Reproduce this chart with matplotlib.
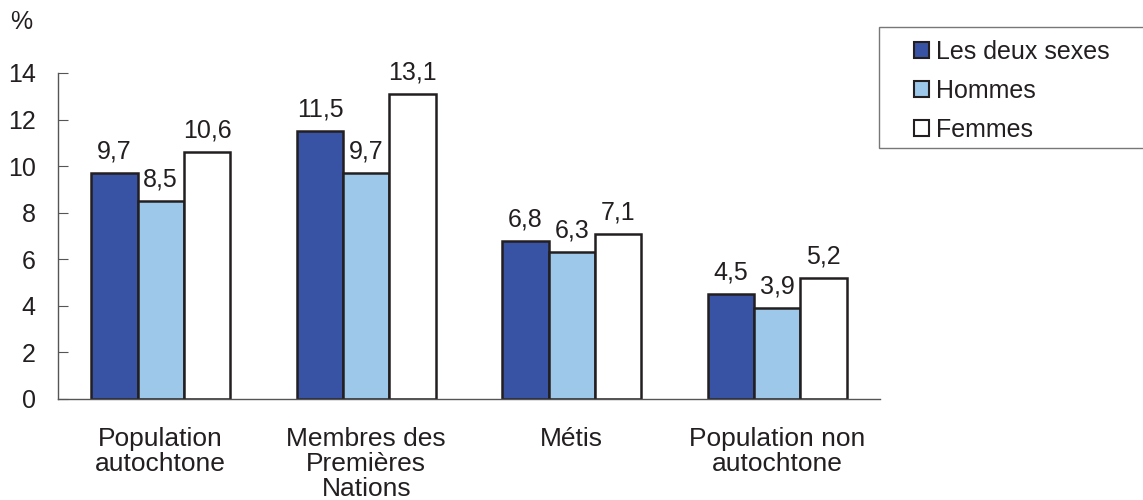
import numpy as np
import matplotlib.pyplot as plt
from matplotlib.patches import Patch, Rectangle

plt.rcParams['font.family'] = ['Liberation Sans', 'DejaVu Sans']

categories = ["Population\nautochtone", "Membres des\nPremières\nNations", "Métis",
              "Population non\nautochtone"]
series_names = ["Les deux sexes", "Hommes", "Femmes"]
les_deux_sexes = [9.7, 11.5, 6.8, 4.5]
hommes = [8.5, 9.7, 6.3, 3.9]
femmes = [10.6, 13.1, 7.1, 5.2]

colors = ["#3953a4", "#9dc8ea", "#ffffff"]
edge = "#231f20"
fs = 18

fig = plt.figure(figsize=(11.43, 5.0), dpi=100)
ax = fig.add_axes([58 / 1143, 1 - 399 / 500, (880 - 58) / 1143, (399 - 73) / 500])

x = np.arange(len(categories))
width = 0.225
for i, (vals, col) in enumerate(zip([les_deux_sexes, hommes, femmes], colors)):
    pos = x + (i - 1) * width
    ax.bar(pos, vals, width, color=col, edgecolor=edge, linewidth=1.8)
    for p, v in zip(pos, vals):
        ax.text(p, v + 0.4, f"{v:.1f}".replace(".", ","), ha="center", va="bottom",
                fontsize=fs, color="#231f20")

ax.set_xlim(-0.5, 3.5)
ax.set_ylim(0, 14)
ax.set_yticks(range(0, 15, 2))
ax.set_xticks(x)
ax.set_xticklabels(categories, fontsize=19, color="#231f20", linespacing=1.05)
ax.tick_params(axis="x", length=0, pad=20)
ax.tick_params(axis="y", labelsize=fs, labelcolor="#231f20", direction="in", length=7,
               color="#555555", pad=16)
for s in ["top", "right"]:
    ax.spines[s].set_visible(False)
for s in ["left", "bottom"]:
    ax.spines[s].set_color("#555555")
    ax.spines[s].set_linewidth(1.0)

fig.text(10 / 1143, 1 - 22 / 500, "%", fontsize=fs, color="#231f20", va="center")

# legend frame runs off the right edge, as in the source
fig.patches.append(Rectangle((879 / 1143, 1 - 148 / 500), 300 / 1143, 121 / 500,
                             transform=fig.transFigure, facecolor="white",
                             edgecolor="#777777", linewidth=1.0, zorder=0))
handles = [Patch(facecolor=c, edgecolor=edge, linewidth=1.5) for c in colors]
leg = fig.legend(handles, series_names, loc="upper left",
                 bbox_to_anchor=(914 / 1143, 1 - 40 / 500), fontsize=fs,
                 frameon=False, handlelength=0.58, handleheight=0.58,
                 handletextpad=0.28, labelspacing=0.6, borderpad=0, borderaxespad=0)
for t in leg.get_texts():
    t.set_color("#231f20")

plt.savefig("out.png", dpi=100)
plt.close()
